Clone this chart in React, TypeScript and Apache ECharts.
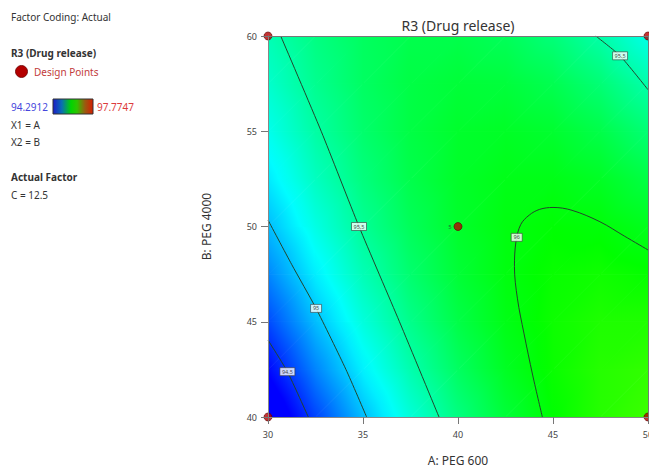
import React, { useEffect, useRef } from "react";
import * as echarts from "echarts";

// ---- data ----
const aLevels = [30, 32.5, 35, 37.5, 40, 42.5, 45, 47.5, 50]; // A: PEG 600
const bLevels = [40, 42.5, 45, 47.5, 50, 52.5, 55, 57.5, 60]; // B: PEG 4000
// R3 (Drug release) surface; rows follow bLevels, columns follow aLevels
const surface = [
  [94.051, 94.521, 94.935, 95.293, 95.594, 95.839, 96.028, 96.161, 96.237],
  [94.308, 94.742, 95.119, 95.439, 95.704, 95.912, 96.064, 96.159, 96.199],
  [94.541, 94.937, 95.277, 95.561, 95.789, 95.96, 96.075, 96.134, 96.136],
  [94.749, 95.108, 95.411, 95.658, 95.849, 95.983, 96.061, 96.083, 96.048],
  [94.932, 95.254, 95.521, 95.73, 95.884, 95.981, 96.023, 96.007, 95.936],
  [95.09, 95.376, 95.605, 95.778, 95.895, 95.955, 95.959, 95.907, 95.799],
  [95.224, 95.473, 95.665, 95.801, 95.881, 95.904, 95.871, 95.782, 95.637],
  [95.333, 95.544, 95.7, 95.799, 95.842, 95.828, 95.759, 95.633, 95.45],
  [95.417, 95.592, 95.71, 95.772, 95.778, 95.728, 95.621, 95.458, 95.239],
];
const colorRange = [94.2912, 97.7747];

const contour945 = [[30, 44.04], [31.02, 42.38], [32.12, 40]];
const contour95 = [[30, 50.34], [31.25, 48.0], [32.53, 45.7], [34.1, 42.5], [35.19, 40]];
const contour955 = [[30.67, 60], [32.8, 55], [34.79, 50], [36.92, 45], [39.0, 40]];
const contour955b = [[47.25, 60], [48.53, 58.96], [50, 57.18]];
const contour96 = [
  [44.44, 40], [43.93, 42.2], [43.47, 44.4], [43.13, 46.2], [42.97, 47.9],
  [43.05, 49.2], [43.3, 50.1], [43.75, 50.6], [44.3, 50.9], [45.0, 51.0],
  [46.0, 50.85], [47.47, 50.25], [48.75, 49.5], [50, 48.77],
];
const contourLabelPos = [[34.79, 50.0], [32.53, 45.7], [31.02, 42.38], [48.53, 58.96], [43.09, 49.43]];
const contourLabelText = ["95.5", "95", "94.5", "95.5", "96"];

const designA = [30, 30, 40, 50, 50];
const designB = [40, 60, 50, 40, 60];
const designReps = ["", "", "5", "", ""];

const xTicks = { min: 30, max: 50, interval: 5 };
const yTicks = { min: 40, max: 60, interval: 5 };

// ---- colour map (blue → cyan → green → yellow → red) ----
const cmap: [number, number[]][] = [
  [0, [0, 0, 255]],
  [0.25, [0, 255, 255]],
  [0.5, [0, 255, 0]],
  [0.75, [255, 255, 0]],
  [1, [255, 0, 0]],
];
// colours of the small legend bar as it appears in the reference
const legendBarStops = [
  [0, "#1c1cc8"],
  [0.22, "#0a6fb4"],
  [0.45, "#00d400"],
  [0.6, "#2ec400"],
  [0.8, "#9a5a10"],
  [1, "#d81c00"],
];

function colorAt(v: number): string {
  let t = (v - colorRange[0]) / (colorRange[1] - colorRange[0]);
  t = Math.max(0, Math.min(1, t));
  for (let i = 0; i < cmap.length - 1; i++) {
    const [t0, c0] = cmap[i];
    const [t1, c1] = cmap[i + 1];
    if (t <= t1) {
      const f = (t - t0) / (t1 - t0);
      const c = c0.map((x, k) => Math.round(x + (c1[k] - x) * f));
      return `rgb(${c[0]},${c[1]},${c[2]})`;
    }
  }
  return "rgb(255,0,0)";
}

function triangle(p0: number[], v0: number, p1: number[], v1: number, p2: number[], v2: number) {
  const d1x = p1[0] - p0[0], d1y = p1[1] - p0[1];
  const d2x = p2[0] - p0[0], d2y = p2[1] - p0[1];
  const dv1 = v1 - v0, dv2 = v2 - v0;
  const det = d1x * d2y - d1y * d2x;
  const ax = (dv1 * d2y - d1y * dv2) / det;
  const ay = (d1x * dv2 - dv1 * d2x) / det;
  const n2 = ax * ax + ay * ay;
  const vmin = Math.min(v0, v1, v2);
  const vmax = Math.max(v0, v1, v2);
  let fill: any;
  if (n2 < 1e-12 || vmax - vmin < 1e-6) {
    fill = colorAt((v0 + v1 + v2) / 3);
  } else {
    const sx = p0[0] + (ax * (vmin - v0)) / n2;
    const sy = p0[1] + (ay * (vmin - v0)) / n2;
    const ex = p0[0] + (ax * (vmax - v0)) / n2;
    const ey = p0[1] + (ay * (vmax - v0)) / n2;
    const stops = [];
    const K = 6;
    for (let k = 0; k <= K; k++) {
      stops.push({ offset: k / K, color: colorAt(vmin + ((vmax - vmin) * k) / K) });
    }
    fill = new echarts.graphic.LinearGradient(sx, sy, ex, ey, stops, true);
  }
  return {
    type: "polygon",
    shape: { points: [p0, p1, p2] },
    style: { fill, stroke: fill, lineWidth: 1 },
  };
}

const FONT = '"Noto Sans", "Open Sans", sans-serif';

export default function App() {
  const ref = useRef<HTMLDivElement>(null);

  useEffect(() => {
    if (!ref.current) return;
    const chart = echarts.init(ref.current, null, { renderer: "svg", width: 649, height: 469 });

    const cells: number[][] = [];
    for (let j = 0; j < bLevels.length - 1; j++) {
      for (let i = 0; i < aLevels.length - 1; i++) {
        cells.push([
          aLevels[i], bLevels[j], aLevels[i + 1], bLevels[j + 1],
          surface[j][i], surface[j][i + 1], surface[j + 1][i + 1], surface[j + 1][i],
        ]);
      }
    }

    const lineStyle = { color: "#23452c", width: 1 };
    const contourSeries = [contour945, contour95, contour955, contour955b, contour96].map((d, k) => ({
      type: "line",
      data: d,
      showSymbol: false,
      smooth: k === 4 ? 0.35 : 0.2,
      lineStyle,
      silent: true,
      clip: true,
      z: 3,
    }));

    const txt = (text: string, x: number, y: number, opts: any = {}) => ({
      type: "text",
      x,
      y,
      style: {
        text,
        fill: opts.fill || "#333",
        fontSize: opts.fontSize || 10,
        fontWeight: opts.bold ? "bold" : "normal",
        fontFamily: FONT,
        align: opts.align || "left",
        verticalAlign: "middle",
      },
    });

    chart.setOption({
      animation: false,
      backgroundColor: "#ffffff",
      grid: {
        left: 268,
        top: 36,
        width: 380,
        height: 381,
        containLabel: false,
        outerBoundsMode: "none",
      },
      xAxis: [
        {
          type: "value",
          min: xTicks.min,
          max: xTicks.max,
          interval: xTicks.interval,
          z: 10,
          name: "A: PEG 600",
          nameLocation: "middle",
          nameGap: 37,
          nameTextStyle: { fontSize: 12, color: "#333", fontFamily: FONT },
          axisLine: { show: true, lineStyle: { color: "#888", width: 1 } },
          axisTick: { show: true, length: 7, lineStyle: { color: "#777" } },
          axisLabel: { fontSize: 9, color: "#444", margin: 13, fontFamily: FONT },
          splitLine: { show: false },
        },
        {
          type: "value",
          position: "top",
          min: xTicks.min,
          max: xTicks.max,
          z: 10,
          axisLine: { show: true, lineStyle: { color: "#777", width: 1 } },
          axisTick: { show: false },
          axisLabel: { show: false },
          splitLine: { show: false },
        },
      ],
      yAxis: [
        {
          type: "value",
          min: yTicks.min,
          max: yTicks.max,
          interval: yTicks.interval,
          z: 10,
          name: "B: PEG 4000",
          nameLocation: "middle",
          nameGap: 56,
          nameTextStyle: { fontSize: 12, color: "#333", fontFamily: FONT },
          axisLine: { show: true, lineStyle: { color: "#888", width: 1 } },
          axisTick: { show: true, length: 7, lineStyle: { color: "#777" } },
          axisLabel: { fontSize: 9, color: "#444", margin: 11, fontFamily: FONT },
          splitLine: { show: false },
        },
        {
          type: "value",
          position: "right",
          min: yTicks.min,
          max: yTicks.max,
          z: 10,
          axisLine: { show: true, lineStyle: { color: "#777", width: 1 } },
          axisTick: { show: false },
          axisLabel: { show: false },
          splitLine: { show: false },
        },
      ],
      series: [
        {
          type: "custom",
          data: cells,
          encode: { x: [0, 2], y: [1, 3] },
          clip: true,
          silent: true,
          z: 1,
          renderItem: (_params: any, api: any) => {
            const p00 = api.coord([api.value(0), api.value(1)]);
            const p10 = api.coord([api.value(2), api.value(1)]);
            const p11 = api.coord([api.value(2), api.value(3)]);
            const p01 = api.coord([api.value(0), api.value(3)]);
            const v00 = api.value(4), v10 = api.value(5), v11 = api.value(6), v01 = api.value(7);
            return {
              type: "group",
              children: [
                triangle(p00, v00, p10, v10, p11, v11),
                triangle(p00, v00, p11, v11, p01, v01),
              ],
            };
          },
        },
        ...contourSeries,
        {
          type: "scatter",
          data: contourLabelPos,
          symbol: "rect",
          symbolSize: (_v: any, p: any) =>
            contourLabelText[p.dataIndex].length > 2 ? [15, 8] : [11, 8],
          itemStyle: { color: "#ffffff", borderColor: "#333", borderWidth: 0.7 },
          label: {
            show: true,
            position: "inside",
            formatter: (p: any) => contourLabelText[p.dataIndex],
            fontSize: 5.5,
            color: "#222",
            fontFamily: FONT,
          },
          silent: true,
          clip: false,
          z: 4,
        },
        {
          type: "scatter",
          data: designA.map((a, i) => [a, designB[i]]),
          symbol: "circle",
          symbolSize: 8,
          itemStyle: { color: "#b40000", borderColor: "#5a0000", borderWidth: 0.8 },
          label: {
            show: true,
            position: "left",
            distance: 2,
            formatter: (p: any) => designReps[p.dataIndex],
            fontSize: 6,
            color: "#333",
            fontFamily: FONT,
          },
          silent: true,
          clip: false,
          z: 5,
        },
      ],
      graphic: [
        txt("R3 (Drug release)", 458, 25, { fontSize: 14, align: "center" }),
        txt("Factor Coding: Actual", 11, 17),
        txt("R3 (Drug release)", 11, 53, { bold: true }),
        {
          type: "circle",
          shape: { cx: 21.5, cy: 71.5, r: 6 },
          style: { fill: "#b40000", stroke: "#6a0000", lineWidth: 0.8 },
        },
        txt("Design Points", 34, 72, { fill: "#c23b3b" }),
        txt(String(colorRange[0]), 11, 107, { fill: "#4646dc" }),
        {
          type: "rect",
          shape: { x: 53, y: 99, width: 40, height: 15 },
          style: {
            fill: new echarts.graphic.LinearGradient(
              0, 0, 1, 0,
              legendBarStops.map(([o, c]) => ({ offset: o as number, color: c as string }))
            ),
            stroke: "#333",
            lineWidth: 1,
          },
        },
        txt(String(colorRange[1]), 97, 107, { fill: "#dc3c3c" }),
        txt("X1 = A", 11, 125),
        txt("X2 = B", 11, 142),
        txt("Actual Factor", 11, 177, { bold: true }),
        txt("C = 12.5", 11, 195),
      ],
    });

    return () => chart.dispose();
  }, []);

  return (
    <div
      ref={ref}
      style={{ position: "absolute", left: 0, top: 0, width: 649, height: 469, background: "#fff" }}
    />
  );
}
